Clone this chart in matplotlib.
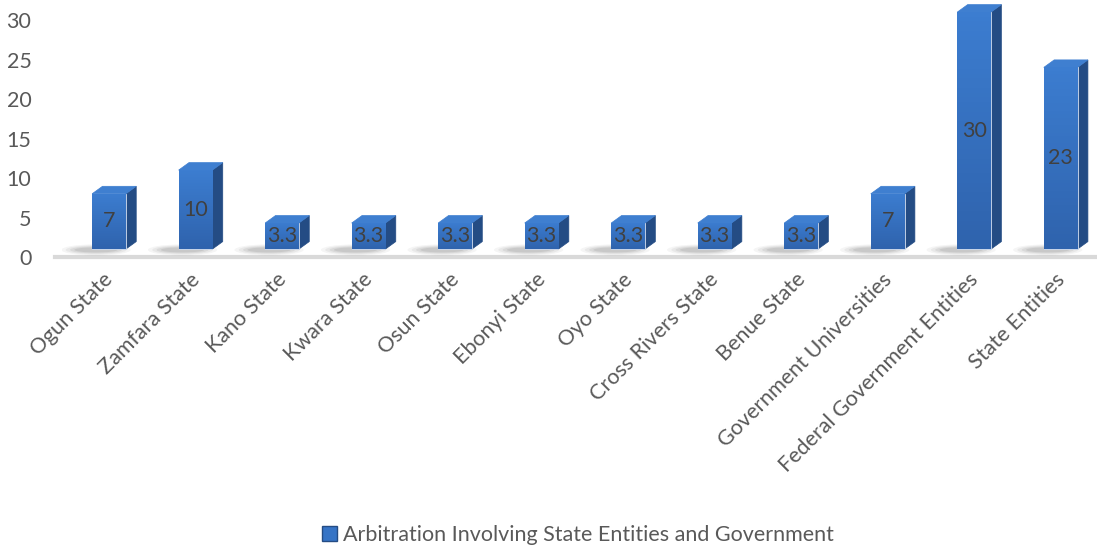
import matplotlib
matplotlib.use("Agg")
import matplotlib.pyplot as plt
import matplotlib.transforms as mtransforms
from matplotlib.patches import Polygon, Rectangle, Ellipse, Patch
import numpy as np

plt.rcParams['font.family'] = ['Lato', 'DejaVu Sans']

# data
categories = ["Ogun State", "Zamfara State", "Kano State", "Kwara State", "Osun State",
              "Ebonyi State", "Oyo State", "Cross Rivers State", "Benue State",
              "Government Universities", "Federal Government Entities", "State Entities"]
values = [7, 10, 3.3, 3.3, 3.3, 3.3, 3.3, 3.3, 3.3, 7, 30, 23]
value_labels = ["7", "10", "3.3", "3.3", "3.3", "3.3", "3.3", "3.3", "3.3", "7", "30", "23"]
series_name = "Arbitration Involving State Entities and Government"

W, H = 1097, 550
fig = plt.figure(figsize=(W / 100, H / 100), dpi=100)
ax = fig.add_axes([62 / W, (H - 257) / H, (1097 - 62) / W, 252 / H])

ax.set_xlim(-0.543, 11.42)
ax.set_ylim(0, 31.9)

# 3d look: front face, side face, top face
bw = 0.39       # front face width
dx = 0.12       # depth offset (x)
dy = 0.95       # depth offset (y)
base = 1.0      # front face sits a little above the floor line
front_c = '#3674C6'
side_c = '#244C84'
top_c = '#3F7FD0'
fs = 15.5

floor = plt.Line2D([-0.62, 11.5], [0, 0], color='#d9d9d9', lw=3, clip_on=False, zorder=1)
ax.add_line(floor)

cmap = matplotlib.colors.LinearSegmentedColormap.from_list('g', ['#2F63AD', '#3C7DD0'])
for i, v in enumerate(values):
    x0 = i - bw / 2
    x1 = i + bw / 2
    y0 = base
    y1 = base + v
    # soft shadow on the floor
    for k, a in enumerate([0.06, 0.08, 0.1, 0.12]):
        ax.add_patch(Ellipse((i - 0.15, base - 0.1), 0.8 - k * 0.1, 1.4 - k * 0.25,
                             color='#555555', alpha=a, lw=0, zorder=2))
    front = Rectangle((x0, y0), bw, v, facecolor=front_c, edgecolor='#d6dfee', lw=0.6, zorder=4)
    ax.add_patch(front)
    im = ax.imshow(np.linspace(1, 0, 50).reshape(-1, 1), extent=(x0, x1, y0, y1),
                   aspect='auto', cmap=cmap, zorder=4.5)
    im.set_clip_path(front)
    side = Polygon([(x1, y0), (x1 + dx, y0 + dy), (x1 + dx, y1 + dy), (x1, y1)],
                   closed=True, facecolor=side_c, edgecolor=side_c, lw=0.5, zorder=3,
                   clip_on=False)
    ax.add_patch(side)
    top = Polygon([(x0, y1), (x0 + dx, y1 + dy), (x1 + dx, y1 + dy), (x1, y1)],
                  closed=True, facecolor=top_c, edgecolor=top_c, lw=0.5, zorder=3,
                  clip_on=False)
    ax.add_patch(top)
    ax.text(i, base + v / 2, value_labels[i], ha='center', va='center',
            fontsize=fs, color='#404040', zorder=6)

ax.set_yticks([0, 5, 10, 15, 20, 25, 30])
ax.set_xticks(range(len(categories)))
ax.set_xticklabels(categories, rotation=45, ha='right', rotation_mode='anchor')
ax.tick_params(axis='both', length=0, labelsize=fs, labelcolor='#595959')
ax.tick_params(axis='y', pad=22)
ax.tick_params(axis='x', pad=9)
shift = mtransforms.ScaledTranslation(-6 / 100, 0, fig.dpi_scale_trans)
for lab in ax.get_xticklabels():
    lab.set_transform(lab.get_transform() + shift)
for s in ax.spines.values():
    s.set_visible(False)
ax.set_facecolor('none')

handle = Patch(facecolor=front_c, edgecolor='#244C84')
fig.legend(handles=[handle], labels=[series_name], loc='center',
           bbox_to_anchor=(578 / W, 1 - 535 / H), frameon=False, fontsize=fs,
           handlelength=0.7, handleheight=0.7, handletextpad=0.3,
           labelcolor='#595959')

fig.savefig("out.png", dpi=100)
